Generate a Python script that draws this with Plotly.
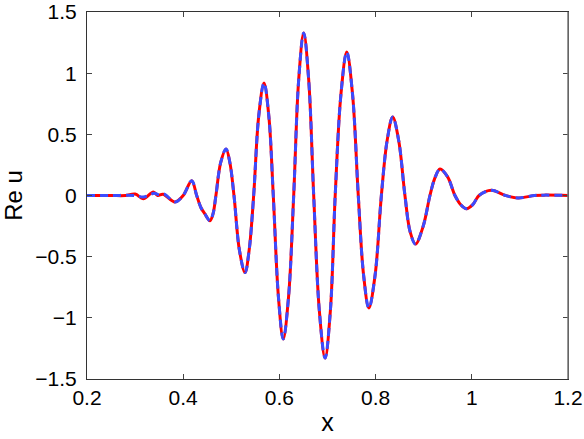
import plotly.graph_objects as go

# x positions
x_red = [0.20, 0.25, 0.28, 0.30, 0.317, 0.338, 0.347, 0.358, 0.383, 0.40, 0.4177, 0.428,
         0.437, 0.445, 0.4557, 0.462, 0.468, 0.478, 0.489, 0.497, 0.5056, 0.517, 0.5285,
         0.537, 0.5465, 0.557, 0.568, 0.578, 0.5873, 0.598, 0.608, 0.619, 0.6297, 0.640,
         0.6505, 0.661, 0.6713, 0.683, 0.695, 0.706, 0.716, 0.728, 0.740, 0.752, 0.764,
         0.775, 0.786, 0.799, 0.812, 0.824, 0.8355, 0.848, 0.861, 0.872, 0.883, 0.899,
         0.913, 0.923, 0.934, 0.950, 0.965, 0.977, 0.989, 1.002, 1.015, 1.041, 1.07,
         1.097, 1.13, 1.15, 1.20]
y_red = [0.0, 0.0, 0.0, 0.012, -0.026, 0.029, 0.0, 0.01, -0.053, 0.0, 0.121, 0.0,
         -0.10, -0.15, -0.206, -0.15, 0.0, 0.27, 0.38, 0.27, 0.0, -0.45, -0.63,
         -0.45, 0.0, 0.65, 0.92, 0.65, 0.0, -0.83, -1.173, -0.83, 0.0, 0.94,
         1.329, 0.94, 0.0, -0.94, -1.329, -0.94, 0.0, 0.83, 1.173, 0.83, 0.0,
         -0.65, -0.92, -0.65, 0.0, 0.45, 0.642, 0.45, 0.0, -0.30, -0.397, -0.25,
         0.0, 0.14, 0.217, 0.15, 0.0, -0.075, -0.108, -0.075, 0.0, 0.042, 0.0,
         -0.02, 0.0, 0.003, 0.0]

x_blue = [0.20, 0.25, 0.30, 0.317, 0.340, 0.350, 0.360, 0.383, 0.40, 0.4177, 0.428,
          0.437, 0.445, 0.4557, 0.462, 0.468, 0.478, 0.489, 0.497, 0.5056, 0.517, 0.5285,
          0.537, 0.5465, 0.557, 0.568, 0.578, 0.5873, 0.598, 0.608, 0.619, 0.6297, 0.640,
          0.6505, 0.661, 0.6713, 0.683, 0.695, 0.706, 0.716, 0.728, 0.740, 0.752, 0.764,
          0.775, 0.786, 0.799, 0.812, 0.824, 0.8355, 0.848, 0.861, 0.872, 0.883, 0.899,
          0.913, 0.923, 0.934, 0.950, 0.965, 0.977, 0.989, 1.002, 1.015, 1.041, 1.07,
          1.097, 1.13, 1.15, 1.20]
y_blue = [0.0, 0.0, 0.0, -0.012, 0.018, 0.005, 0.012, -0.053, 0.0, 0.121, 0.0,
          -0.10, -0.15, -0.206, -0.15, 0.0, 0.27, 0.38, 0.27, 0.0, -0.45, -0.63,
          -0.45, 0.0, 0.65, 0.92, 0.65, 0.0, -0.83, -1.173, -0.83, 0.0, 0.94,
          1.329, 0.94, 0.0, -0.94, -1.329, -0.94, 0.0, 0.83, 1.173, 0.83, 0.0,
          -0.65, -0.92, -0.65, 0.0, 0.45, 0.642, 0.45, 0.0, -0.30, -0.397, -0.25,
          0.0, 0.14, 0.217, 0.15, 0.0, -0.075, -0.108, -0.075, 0.0, 0.042, 0.0,
          -0.02, 0.0, 0.003, 0.0]

x_ticks = [0.2, 0.4, 0.6, 0.8, 1.0, 1.2]
x_tick_text = ["0.2", "0.4", "0.6", "0.8", "1", "1.2"]
y_ticks = [-1.5, -1, -0.5, 0, 0.5, 1, 1.5]
y_tick_text = ["\u22121.5", "\u22121", "\u22120.5", "0", "0.5", "1", "1.5"]

fig = go.Figure()
fig.add_trace(go.Scatter(x=x_red, y=y_red, mode="lines",
                         line=dict(color="#ff0000", width=3, shape="spline", smoothing=1.0)))
fig.add_trace(go.Scatter(x=x_blue, y=y_blue, mode="lines",
                         line=dict(color="#3a4cff", width=3, dash="8px,5px",
                                   shape="spline", smoothing=1.0)))

font = "Liberation Sans, Arial, Helvetica, sans-serif"
fig.update_layout(
    width=584, height=439,
    margin=dict(l=87, r=16, t=12, b=60),
    paper_bgcolor="white", plot_bgcolor="white",
    showlegend=False,
    font=dict(family=font, size=21, color="black"),
    xaxis=dict(range=[0.2, 1.2], tickvals=x_ticks, ticktext=x_tick_text,
               ticks="inside", ticklen=5, tickcolor="#444", showgrid=False, zeroline=False,
               showline=True, linecolor="#333", linewidth=1, mirror="ticks",
               ticklabelstandoff=0, automargin=False,
               title=dict(text="x", font=dict(size=25), standoff=5)),
    yaxis=dict(range=[-1.5, 1.5], tickvals=y_ticks, ticktext=y_tick_text,
               ticks="inside", ticklen=5, tickcolor="#444", showgrid=False, zeroline=False,
               showline=True, linecolor="#333", linewidth=1, mirror="ticks",
               ticklabelstandoff=5, automargin=False,
               title=dict(text="Re u", font=dict(size=24), standoff=5)),
    shapes=[dict(type="line", xref="paper", yref="paper", x0=1, x1=1, y0=0, y1=1,
                 line=dict(color="#777", width=1.5))],
)
fig.write_html(
    "out.html",
    config={"displayModeBar": False},
    post_script="document.body.style.margin='0';document.body.style.overflow='hidden';"
                "document.documentElement.style.overflow='hidden';",
)
